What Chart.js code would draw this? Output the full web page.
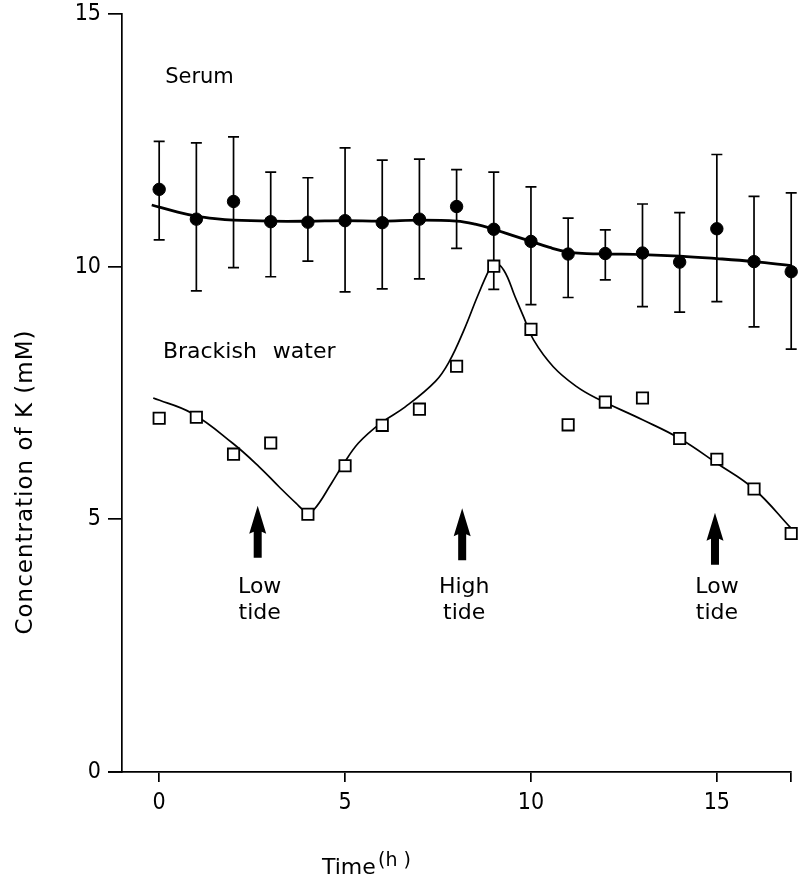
<!DOCTYPE html>
<html>
<head>
<meta charset="utf-8">
<script src="https://cdn.jsdelivr.net/npm/chart.js@4.4.1/dist/chart.umd.min.js"></script>
<style>
  body { margin: 0; background: #fff; }
  canvas { display: block; }
</style>
</head>
<body>
<canvas id="kChart" width="801" height="878"></canvas>
<script>
// time points (h)
const hours = [0, 1, 2, 3, 4, 5, 6, 7, 8, 9, 10, 11, 12, 13, 14, 15, 16, 17];

// serum K (mM): mean and ends of the error bars
const serumMean  = [11.53, 10.94, 11.29, 10.89, 10.88, 10.91, 10.87, 10.94, 11.19, 10.74, 10.50, 10.25, 10.26, 10.27, 10.09, 10.75, 10.10, 9.90];
const serumUpper = [12.48, 12.45, 12.57, 11.87, 11.76, 12.35, 12.11, 12.13, 11.92, 11.87, 11.58, 10.96, 10.73, 11.24, 11.07, 12.22, 11.39, 11.46];
const serumLower = [10.53, 9.52, 9.98, 9.80, 10.11, 9.50, 9.56, 9.76, 10.36, 9.55, 9.25, 9.39, 9.74, 9.21, 9.10, 9.31, 8.81, 8.37];

// brackish water K (mM)
const brackish = [7.00, 7.02, 6.29, 6.51, 5.10, 6.06, 6.86, 7.18, 8.03, 10.01, 8.76, 6.87, 7.32, 7.40, 6.60, 6.19, 5.60, 4.72];

// fitted curves as drawn in the figure
const serumFitX = [-0.2, 0.5, 1, 1.5, 2, 3, 4, 5, 6, 7, 8, 8.5, 9, 9.5, 10, 10.5, 11, 11.5, 12, 13, 14, 15, 16, 17];
const serumFitY = [11.22, 11.08, 11.00, 10.95, 10.92, 10.90, 10.90, 10.91, 10.90, 10.92, 10.90, 10.84, 10.74, 10.62, 10.50, 10.38, 10.29, 10.26, 10.25, 10.24, 10.21, 10.16, 10.10, 10.02];
const brackFitX = [-0.16, 0.88, 1.97, 2.69, 3.23, 3.68, 3.95, 4.16, 4.64, 4.91, 5.36, 5.97, 6.61, 7.43, 7.8, 8.2, 8.56, 8.87, 9.0, 9.27, 9.57, 9.8, 10.07, 10.6, 11.22, 11.75, 13, 14, 15, 16, 17];
const brackFitY = [7.40, 7.10, 6.51, 6.04, 5.64, 5.32, 5.15, 5.19, 5.72, 6.04, 6.51, 6.91, 7.22, 7.73, 8.12, 8.75, 9.41, 9.93, 10.08, 9.93, 9.41, 9.01, 8.55, 8.02, 7.63, 7.40, 6.97, 6.60, 6.11, 5.60, 4.82];

// tide arrows
const tideHours = [2.65, 8.15, 14.95];
const tideTips = [5.27, 5.22, 5.13];
const tideWords = [["Low", "tide"], ["High", "tide"], ["Low", "tide"]];

const xTicks = [0, 5, 10, 15, 17];
const yTicks = [0, 5, 10, 15];

const toPts = (xs, ys) => xs.map((x, i) => ({ x: x, y: ys[i] }));

const labelFont = '22px "DejaVu Sans", sans-serif';
const tickFont = { family: '"Liberation Sans Narrow", "DejaVu Sans Condensed", "Liberation Sans", sans-serif', size: 23 };

const figureExtras = {
    id: 'figureExtras',
    beforeDatasetsDraw(chart) {
        const ctx = chart.ctx;
        const xs = chart.scales.x, ys = chart.scales.y;
        ctx.save();
        ctx.strokeStyle = '#000';
        ctx.lineWidth = 1.7;
        // error bars
        hours.forEach((h, i) => {
            const px = xs.getPixelForValue(h);
            const top = ys.getPixelForValue(serumUpper[i]);
            const bot = ys.getPixelForValue(serumLower[i]);
            ctx.beginPath();
            ctx.moveTo(px, top); ctx.lineTo(px, bot);
            ctx.moveTo(px - 5.5, top); ctx.lineTo(px + 5.5, top);
            ctx.moveTo(px - 5.5, bot); ctx.lineTo(px + 5.5, bot);
            ctx.stroke();
        });
        // x axis runs a little past the y axis
        const yb = chart.chartArea.bottom;
        ctx.beginPath();
        ctx.moveTo(chart.chartArea.left - 14, yb);
        ctx.lineTo(chart.chartArea.left, yb);
        ctx.stroke();
        ctx.restore();
    },
    afterDatasetsDraw(chart) {
        const ctx = chart.ctx;
        const xs = chart.scales.x, ys = chart.scales.y;
        ctx.save();
        ctx.fillStyle = '#000';

        // arrows + tide labels
        tideHours.forEach((h, i) => {
            const px = xs.getPixelForValue(h);
            const tip = ys.getPixelForValue(tideTips[i]);
            ctx.beginPath();
            ctx.moveTo(px, tip);
            ctx.lineTo(px + 8.5, tip + 28);
            ctx.lineTo(px + 4, tip + 26);
            ctx.lineTo(px + 4, tip + 52);
            ctx.lineTo(px - 4, tip + 52);
            ctx.lineTo(px - 4, tip + 26);
            ctx.lineTo(px - 8.5, tip + 28);
            ctx.closePath();
            ctx.fill();

            ctx.font = labelFont;
            ctx.textAlign = 'center';
            ctx.textBaseline = 'alphabetic';
            ctx.fillText(tideWords[i][0], px + 2, ys.getPixelForValue(3.54));
            ctx.fillText(tideWords[i][1], px + 2, ys.getPixelForValue(3.03));
        });

        // series labels
        ctx.textAlign = 'left';
        ctx.font = '21px "DejaVu Sans", sans-serif';
        ctx.fillText('Serum', xs.getPixelForValue(0.16), ys.getPixelForValue(13.64));
        ctx.font = labelFont;
        ctx.wordSpacing = '9px';
        ctx.fillText('Brackish water', xs.getPixelForValue(0.1), ys.getPixelForValue(8.19));
        ctx.wordSpacing = '0px';

        // axis titles
        ctx.font = '23px "DejaVu Sans", sans-serif';
        ctx.letterSpacing = '1px';
        ctx.save();
        ctx.translate(32, 482);
        ctx.rotate(-Math.PI / 2);
        ctx.textAlign = 'center';
        ctx.fillText('Concentration of K (mM)', 0, 0);
        ctx.restore();
        ctx.letterSpacing = '0px';

        ctx.font = '22px "DejaVu Sans", sans-serif';
        ctx.textAlign = 'left';
        ctx.fillText('Time', 322, 874);
        ctx.font = '19px "DejaVu Sans", sans-serif';
        ctx.fillText('(h )', 378, 866);
        ctx.restore();
    }
};

new Chart(document.getElementById('kChart'), {
    type: 'scatter',
    data: {
        datasets: [
            {
                data: toPts(hours, serumMean),
                pointStyle: 'circle',
                pointRadius: 6.2,
                backgroundColor: '#000',
                borderColor: '#000',
                borderWidth: 1,
                clip: false,
                order: 1
            },
            {
                data: toPts(hours, brackish),
                pointStyle: 'rect',
                pointRadius: 8,
                backgroundColor: '#fff',
                borderColor: '#000',
                borderWidth: 1.8,
                clip: false,
                order: 2
            },
            {
                data: toPts(serumFitX, serumFitY),
                showLine: true,
                pointRadius: 0,
                borderColor: '#000',
                borderWidth: 2.8,
                tension: 0.4,
                clip: false,
                order: 3
            },
            {
                data: toPts(brackFitX, brackFitY),
                showLine: true,
                pointRadius: 0,
                borderColor: '#000',
                borderWidth: 1.7,
                tension: 0.4,
                clip: false,
                order: 4
            }
        ]
    },
    options: {
        responsive: false,
        animation: false,
        devicePixelRatio: 1,
        layout: { padding: { left: 0, right: 4, top: 14, bottom: 0 } },
        plugins: {
            legend: { display: false },
            tooltip: { enabled: false }
        },
        scales: {
            x: {
                type: 'linear',
                min: -1,
                max: 17,
                afterBuildTicks: (scale) => { scale.ticks = xTicks.map(v => ({ value: v })); },
                afterFit: (scale) => {
                    scale.height = 106;
                    scale.paddingLeft = 0;
                    scale.paddingRight = 0;
                },
                ticks: {
                    color: '#000',
                    font: tickFont,
                    padding: 7,
                    maxRotation: 0,
                    callback: (v) => (v === 17 ? '' : v)
                },
                grid: { drawOnChartArea: false, drawTicks: true, tickLength: 10, color: '#000', lineWidth: 1.7 },
                border: { display: true, color: '#000', width: 1.7 }
            },
            y: {
                type: 'linear',
                min: 0,
                max: 15,
                afterBuildTicks: (scale) => { scale.ticks = yTicks.map(v => ({ value: v })); },
                afterFit: (scale) => {
                    scale.width = 122;
                    scale.paddingTop = 0;
                    scale.paddingBottom = 0;
                },
                ticks: { color: '#000', font: tickFont, padding: 7 },
                grid: { drawOnChartArea: false, drawTicks: true, tickLength: 14, color: '#000', lineWidth: 1.7 },
                border: { display: true, color: '#000', width: 1.7 }
            }
        }
    },
    plugins: [figureExtras]
});
</script>
</body>
</html>
